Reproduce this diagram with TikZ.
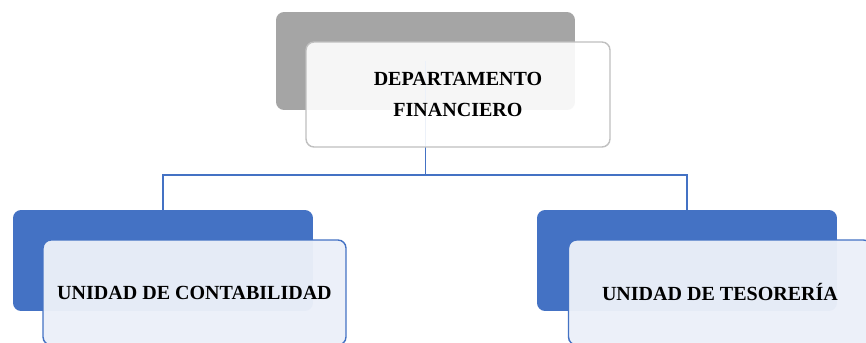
\documentclass[tikz,border=0pt]{standalone}
\usepackage{fontspec}
\setmainfont{Liberation Serif}
\definecolor{boxgray}{HTML}{A5A5A5}
\definecolor{boxblue}{HTML}{4472C4}
\definecolor{paleblue}{HTML}{ECF0F9}
\begin{document}
\begin{tikzpicture}[
    x=0.02cm, y=-0.02cm,
    back/.style={rectangle, rounded corners=0.16cm, minimum width=6cm,
                 minimum height=2cm, inner sep=0pt},
    front/.style={rectangle, rounded corners=0.16cm, minimum width=6.06cm,
                  minimum height=2.1cm, align=center, line width=0.8pt,
                  font=\bfseries\fontsize{11.4}{17.5}\selectfont},
    link/.style={draw=boxblue, line width=0.8pt}
]
\clip (0,0) rectangle (866,342);
\fill [white] (0,0) rectangle (866,342);

\node (finback) [back, fill=boxgray, minimum width=5.98cm, minimum height=1.96cm] at (425.5,61) {};
\node (contback) [back, fill=boxblue, minimum height=2.02cm] at (163,260.5) {};
\node (tesback) [back, fill=boxblue, minimum height=2.02cm] at (687,260.5) {};

\draw [link] (finback.center) -- ++(0,114) -| (contback.north);
\draw [link] (finback.center) ++(0,114) -| (tesback.north);

\node (fin) [front, draw=boxgray!70, fill=white, fill opacity=0.9, text opacity=1,
             minimum width=6.08cm] at (458,94.5) {DEPARTAMENTO\\FINANCIERO};
\node (cont) [front, draw=boxblue, fill=paleblue, fill opacity=0.96, text opacity=1]
             at (194.5,292.5) {UNIDAD DE CONTABILIDAD};
\node (tes) [front, draw=boxblue, fill=paleblue, fill opacity=0.96, text opacity=1]
            at (720,292.5) {UNIDAD DE TESORERÍA};
\end{tikzpicture}
\end{document}
